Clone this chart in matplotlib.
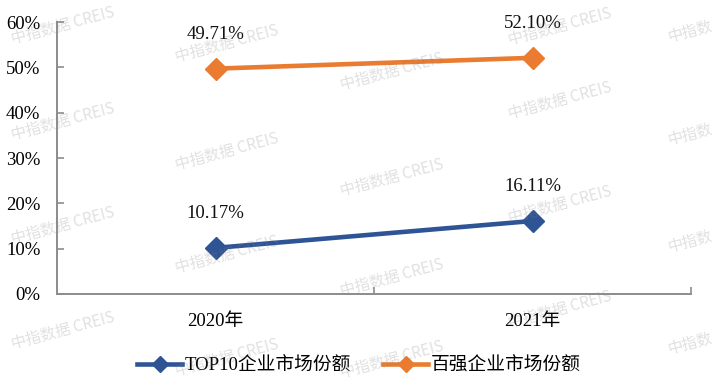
import matplotlib
matplotlib.use("Agg")
import matplotlib.pyplot as plt
from matplotlib.ticker import FuncFormatter, MultipleLocator

plt.rcParams['font.family'] = ['Liberation Serif', 'Noto Sans CJK SC', 'DejaVu Sans']

categories = ['2020年', '2021年']
top10_share = [10.17, 16.11]
top100_share = [49.71, 52.10]
series_names = ['TOP10企业市场份额', '百强企业市场份额']
label_top10 = ['10.17%', '16.11%']
label_top100 = ['49.71%', '52.10%']

blue = '#2E5496'
orange = '#E97C30'
axis_gray = '#8C8C8C'

W, H = 718, 386
fig = plt.figure(figsize=(W / 100, H / 100), dpi=100)
ax = fig.add_axes([57 / W, (H - 294) / H, (691 - 57) / W, (294 - 22) / H])

x = list(range(len(categories)))
ax.plot(x, top10_share, color=blue, lw=3.3, marker='D', ms=11.5,
        label=series_names[0], zorder=3)
ax.plot(x, top100_share, color=orange, lw=3.3, marker='D', ms=11.5,
        label=series_names[1], zorder=3)

for xi, v, t in zip(x, top10_share, label_top10):
    ax.annotate(t, (xi, v), xytext=(0, 24.5), textcoords='offset points',
                ha='center', va='center', fontsize=13.5, color='#111111')
for xi, v, t in zip(x, top100_share, label_top100):
    ax.annotate(t, (xi, v), xytext=(0, 24.5), textcoords='offset points',
                ha='center', va='center', fontsize=13.5, color='#111111')

ax.set_xlim(-0.5, 1.5)
ax.set_ylim(0, 60)
ax.yaxis.set_major_locator(MultipleLocator(10))
ax.yaxis.set_major_formatter(FuncFormatter(lambda v, p: f'{v:.0f}%'))
ax.set_xticks([0.5, 1.5], minor=False)
ax.set_xticklabels([])
ax.set_xticks(x, minor=True)
ax.set_xticklabels(categories, minor=True)
ax.tick_params(axis='x', which='major', direction='in', length=5,
               color=axis_gray, width=1.2)
ax.tick_params(axis='x', which='minor', length=0, pad=14, labelsize=13.5)
ax.tick_params(axis='y', direction='in', length=5, color=axis_gray,
               width=1.2, pad=12, labelsize=13.5)

for s in ['top', 'right']:
    ax.spines[s].set_visible(False)
for s in ['left', 'bottom']:
    ax.spines[s].set_color(axis_gray)
    ax.spines[s].set_linewidth(1.4)

leg = fig.legend(loc='center', bbox_to_anchor=(359 / W, (H - 366) / H),
                 ncol=2, frameon=False, fontsize=13.5, handlelength=2.4,
                 handletextpad=0.15, columnspacing=1.7, markerscale=0.75)

# watermark (kept inside the picture)
wm_text = '中指数据 CREIS'
wm_items = [
    (63, 26, wm_text), (63, 122, wm_text), (63, 226, wm_text), (63, 331, wm_text),
    (227, 44, wm_text), (227, 152, wm_text), (227, 255, wm_text), (227, 358, wm_text),
    (392, 72, wm_text), (392, 178, wm_text), (392, 278, wm_text), (392, 360, wm_text),
    (560, 27, wm_text), (560, 101, wm_text), (560, 205, wm_text), (560, 310, wm_text),
    (690, 32, '中指数'), (690, 135, '中指数'), (690, 242, '中指数'), (690, 344, '中指数'),
]
for cx, cy, t in wm_items:
    fig.text(cx / W, 1 - cy / H, t, rotation=15,
             ha='center', va='center', fontsize=11, color='#808080',
             alpha=0.24, family=['Noto Sans CJK SC', 'DejaVu Sans'],
             zorder=10)

fig.savefig('out.png', dpi=100)
